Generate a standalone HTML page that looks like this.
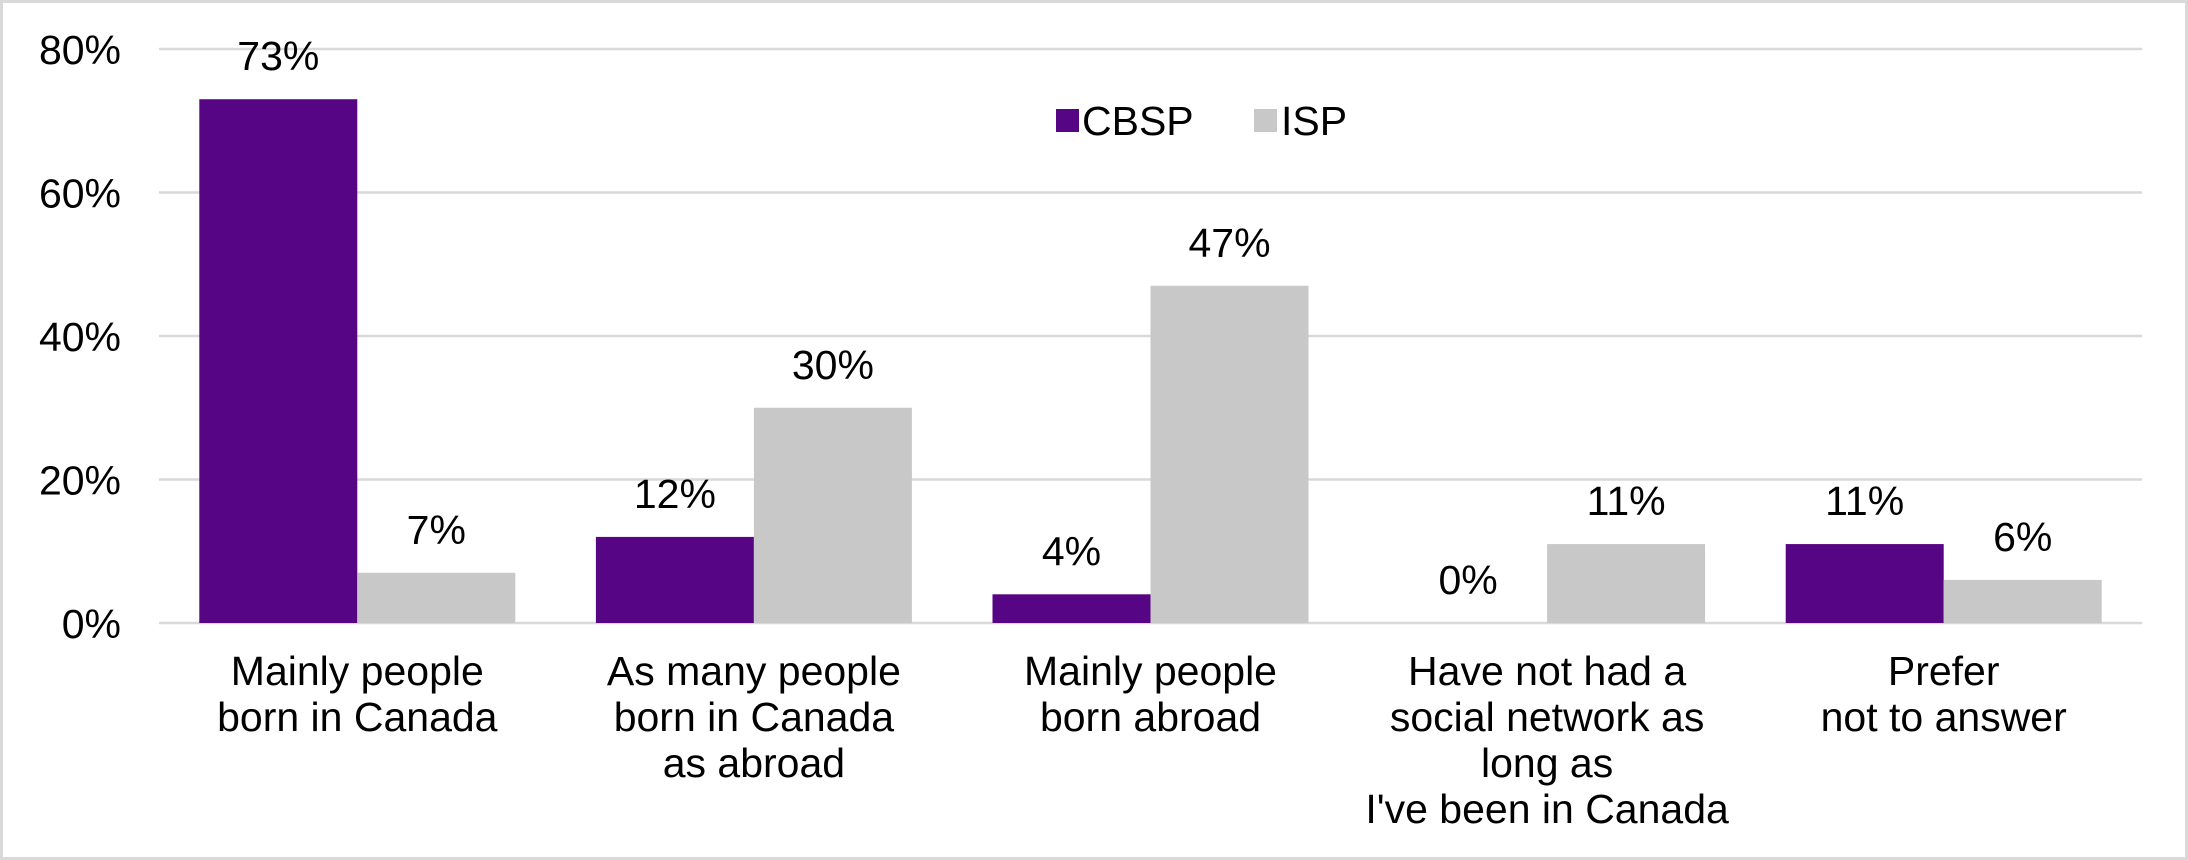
<!DOCTYPE html>
<html><head><meta charset="utf-8"><style>
body{margin:0;background:#fff}
svg{display:block;font-family:"Liberation Sans",sans-serif}
</style></head><body>
<svg width="2188" height="860">
<rect x="1.5" y="1.5" width="2185" height="857" fill="#fff" stroke="#d9d9d9" stroke-width="3"/>
<g id="grid"></g><g id="bars"></g><g id="labels"></g>
<g>
<rect x="1056" y="109" width="23" height="23" fill="#560584"/>
<text x="1082" y="135" font-size="41">CBSP</text>
<rect x="1254" y="109" width="23" height="23" fill="#c8c8c8"/>
<text x="1281" y="135" font-size="41">ISP</text>
</g>
</svg>
<script>
const categories=[["Mainly people","born in Canada"],["As many people","born in Canada","as abroad"],["Mainly people","born abroad"],["Have not had a","social network as","long as","I've been in Canada"],["Prefer","not to answer"]];
const cbsp=[73,12,4,0,11];
const isp=[7,30,47,11,6];
const ticks=[0,20,40,60,80];
const NS="http://www.w3.org/2000/svg";
const L=159,R=2142,Y0=623,Y80=49;
const y=v=>Y0-(v/80)*(Y0-Y80);
const cw=(R-L)/categories.length;
const x=i=>L+i*cw;
function mk(tag,attrs,parent,text){const e=document.createElementNS(NS,tag);for(const k in attrs)e.setAttribute(k,attrs[k]);if(text!==undefined)e.textContent=text;document.getElementById(parent).appendChild(e);return e;}
ticks.forEach(t=>{
 const g=mk('line',{x1:L,x2:R,y1:y(t),y2:y(t),stroke:'#d9d9d9','stroke-width':2.5},'grid');
 
 
 const tl=mk('text',{x:121,y:y(t)+15,'font-size':41,'text-anchor':'end'},'grid',t+'%');
 
 
});
const bw=158,gap=(cw-2*bw)/2;
[[cbsp,'#560584','cbsp'],[isp,'#c8c8c8','isp']].forEach(([vals,col,nm],s)=>{
 vals.forEach((v,i)=>{
  const bx=x(i)+gap+s*bw;
  const r=mk('rect',{x:bx,y:y(v),width:bw,height:Y0-y(v),fill:col},'bars');
  
  
  const t=mk('text',{x:bx+bw/2,y:y(v)-29,'font-size':41,'text-anchor':'middle'},'labels',v+'%');
  
  
 });
});
categories.forEach((lines,i)=>{
 lines.forEach((ln,j)=>{
  const t=mk('text',{x:x(i)+cw/2,y:685+j*46,'font-size':41,'text-anchor':'middle'},'labels',ln);
  
  
 });
});
</script>
</body></html>
